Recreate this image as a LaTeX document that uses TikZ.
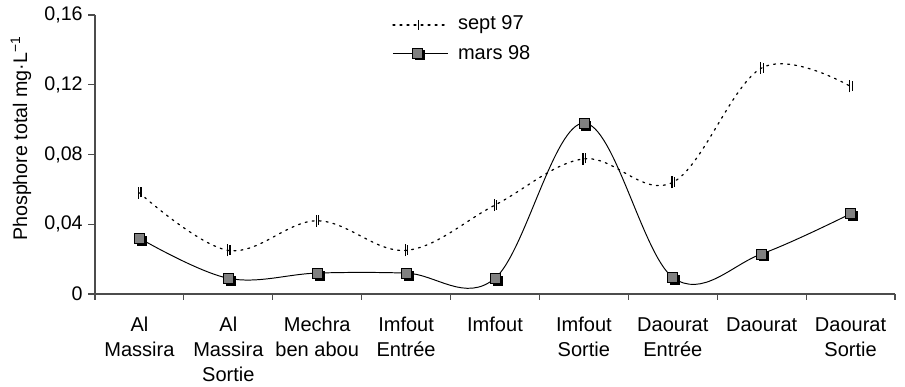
\documentclass[tikz,border=0pt]{standalone}
\usepackage{fontspec}
\setmainfont{Liberation Sans}
\usetikzlibrary{calc}
\tikzset{
  septline/.style={line width=0.7pt, dash pattern=on 1.1pt off 2.9pt, line cap=round},
  marsline/.style={line width=0.55pt},
  axisline/.style={black!70, line width=0.6pt},
  catlabel/.style={anchor=north, align=center, inner sep=0pt, font=\fontsize{11.4}{14.2}\selectfont},
  ticklabel/.style={anchor=east, inner sep=0pt, font=\fontsize{11.2}{13}\selectfont},
  legendtext/.style={anchor=west, inner sep=0pt, font=\fontsize{11.4}{13}\selectfont},
}
\newcommand{\septmark}[1]{%
  \draw[line width=0.7pt] ([xshift=-0.5pt]#1) ++(0,-0.12cm) -- ++(0,0.24cm);%bar
  \draw[line width=0.7pt] ([xshift=0.9pt]#1) ++(0,-0.09cm) -- ++(0,0.2cm);%bar
}
\newcommand{\marsmark}[1]{%
  \fill[black] ([xshift=0.05cm,yshift=-0.05cm]#1) ++(-0.1cm,-0.1cm) rectangle ++(0.2cm,0.2cm);%shadow
  \draw[fill=black!50, line width=0.4pt] (#1) ++(-0.1cm,-0.1cm) rectangle ++(0.2cm,0.2cm);%square
}

\begin{document}
\begin{tikzpicture}[x=1.7778cm, y=34.875cm]
\useasboundingbox (-1.0688,-0.05333) rectangle (9.1125,0.1686);

%axes
\draw[axisline] (0,0.16) -- (0,0) -- (9,0);
\foreach \v/\t in {0/0, 0.04/{0,04}, 0.08/{0,08}, 0.12/{0,12}, 0.16/{0,16}}{
  \draw[axisline] (0,\v) -- ++(-0.14cm,0);
  \node[ticklabel] (y\t) at ([xshift=-0.24cm]0,\v) {\t};
}
\foreach \i in {0,...,9}{
  \draw[axisline] (\i,0) -- ++(0,-0.13cm);
}
\node[rotate=90, inner sep=0pt, font=\fontsize{11.2}{13}\selectfont] (ylab) at (-0.8325,0.0892) {Phosphore total mg·L\textsuperscript{−1}};

%categories
\node[catlabel] (c1) at ([yshift=-0.46cm]0.5,0) {Al\\Massira};
\node[catlabel] (c2) at ([yshift=-0.46cm]1.5,0) {Al\\Massira\\Sortie};
\node[catlabel] (c3) at ([yshift=-0.46cm]2.5,0) {Mechra\\ben abou};
\node[catlabel] (c4) at ([yshift=-0.46cm]3.5,0) {Imfout\\Entrée};
\node[catlabel] (c5) at ([yshift=-0.46cm]4.5,0) {Imfout};
\node[catlabel] (c6) at ([yshift=-0.46cm]5.5,0) {Imfout\\Sortie};
\node[catlabel] (c7) at ([yshift=-0.46cm]6.5,0) {Daourat\\Entrée};
\node[catlabel] (c8) at ([yshift=-0.46cm]7.5,0) {Daourat};
\node[catlabel] (c9) at ([yshift=-0.46cm]8.5,0) {Daourat\\Sortie};

%sept 97
\draw[septline] plot[smooth, tension=0.6] coordinates {(0.5,0.058) (1.5,0.025) (2.5,0.042) (3.5,0.025) (4.5,0.051) (5.5,0.0775) (6.5,0.064) (7.5,0.1296) (8.5,0.119)};
\foreach \px/\py in {0.5/0.058, 1.5/0.025, 2.5/0.042, 3.5/0.025, 4.5/0.051, 5.5/0.0775, 6.5/0.064, 7.5/0.1296, 8.5/0.119}{
  \septmark{\px,\py}
}

%mars 98
\draw[marsline] plot[smooth, tension=0.6] coordinates {(0.5,0.032) (1.5,0.009) (2.5,0.012) (3.5,0.012) (4.5,0.009) (5.5,0.098) (6.5,0.0095) (7.5,0.023) (8.5,0.046)};
\foreach \px/\py in {0.5/0.032, 1.5/0.009, 2.5/0.012, 3.5/0.012, 4.5/0.009, 5.5/0.098, 6.5/0.0095, 7.5/0.023, 8.5/0.046}{
  \marsmark{\px,\py}
}

%legend
\coordinate (ls1) at (3.352,0.1543);
\coordinate (le1) at (3.97,0.1543);
\draw[septline] (ls1) -- (le1);
\draw[line width=0.7pt] ($(ls1)!0.47!(le1)$) ++(0,-0.1cm) -- ++(0,0.2cm);
\node[legendtext] (leg1) at (4.08,0.1543) {sept 97};
\coordinate (ls2) at (3.352,0.1382);
\coordinate (le2) at (3.97,0.1382);
\draw[marsline] (ls2) -- (le2);
\marsmark{$(ls2)!0.45!(le2)$}
\node[legendtext] (leg2) at (4.08,0.1382) {mars 98};
\end{tikzpicture}
\end{document}
